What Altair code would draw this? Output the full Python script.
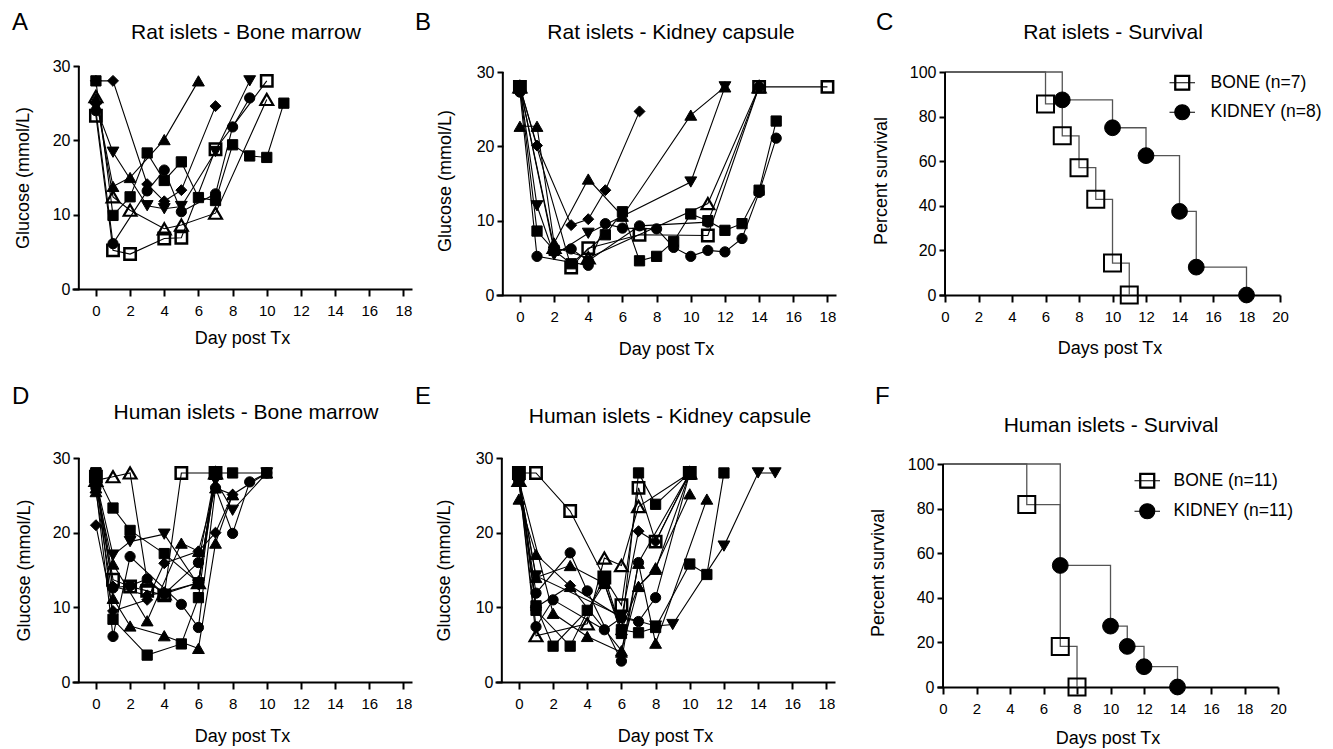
import altair as alt
import pandas as pd

FONT = "Liberation Sans"

# ---------------- Panel A: Rat islets - Bone marrow  [day, glucose mmol/L] ----------------
A_SQUARE = [[0, 28.0], [1, 9.9], [2, 12.4], [3, 18.3], [4, 14.6], [5, 17.1], [6, 12.3], [7, 11.9], [8, 19.4], [9, 17.9], [10, 17.7], [11, 25.0]]
A_DIAMOND = [[0, 28.0], [1, 28.0], [3, 14.1], [4, 11.8], [5, 13.3], [7, 24.6]]
A_TRI_UP = [[0, 25.6], [1, 13.8], [2, 15.0], [4, 20.1], [6, 28.0]]
A_TRI_DOWN = [[0, 24.5], [1, 18.4], [3, 11.2], [4, 10.8], [5, 11.1], [7, 18.5], [9, 28.0]]
A_CIRCLE = [[0, 24.0], [1, 6.1], [3, 13.2], [4, 16.0], [5, 10.4], [7, 12.8], [8, 21.8], [9, 25.7]]
A_OPEN_SQUARE = [[0, 23.3], [1, 5.2], [2, 4.7], [4, 6.8], [5, 6.9], [7, 18.8], [10, 28.0]]
A_OPEN_TRI = [[0, 25.9], [1, 12.4], [2, 10.6], [4, 8.1], [5, 8.6], [7, 10.2], [10, 25.5]]

# ---------------- Panel B: Rat islets - Kidney capsule ----------------
B_SQUARE = [[0, 28.0], [1, 8.6], [2, 6.0], [3, 4.2], [5, 8.1], [6, 11.2], [7, 4.6], [8, 5.2], [9, 7.2], [10, 10.9], [11, 10.0], [12, 8.7], [13, 9.6], [14, 14.1], [15, 23.4]]
B_CIRCLE = [[0, 27.3], [1, 5.2], [4, 4.0], [5, 9.6], [6, 9.0], [8, 8.9], [9, 6.4], [10, 5.2], [11, 6.0], [12, 5.8], [13, 7.6], [14, 13.8], [15, 21.1]]
B_CIRCLE_2 = [[0, 28.0], [2, 6.0], [3, 6.2], [4, 4.6], [7, 9.3], [11, 9.8], [14, 28.0]]
B_DIAMOND = [[0, 28.0], [1, 20.1], [3, 9.4], [4, 10.2], [5, 14.1], [7, 24.7]]
B_TRI_UP = [[0, 22.7], [1, 22.7], [2, 7.0], [4, 15.6], [6, 10.6], [10, 24.2], [12, 28.0]]
B_TRI_DOWN = [[0, 28.0], [1, 12.0], [2, 5.4], [4, 8.3], [10, 15.2], [12, 28.0]]
B_OPEN_SQUARE = [[0, 28.0], [3, 3.7], [4, 6.3], [7, 8.1], [11, 8.0], [14, 28.0], [18, 28.0]]
B_OPEN_TRI = [[0, 28.0], [2, 6.4], [4, 5.0], [11, 12.3], [14, 28.0]]

# ---------------- Panel D: Human islets - Bone marrow ----------------
D_SQUARE_1 = [[0, 28.0], [1, 23.3], [2, 20.3], [4, 17.2], [6, 13.3], [7, 28.0], [8, 28.0], [10, 28.0]]
D_SQUARE_2 = [[0, 28.0], [1, 8.4], [3, 3.6], [5, 5.1], [6, 11.3], [7, 28.0]]
D_OPEN_SQUARE = [[0, 27.5], [1, 13.7], [2, 12.8], [3, 12.2], [4, 11.6], [5, 28.0], [7, 28.0]]
D_OPEN_TRI = [[0, 27.0], [1, 27.5], [2, 28.0], [3, 13.5], [4, 11.8], [6, 13.3], [7, 28.0]]
D_TRI_UP_1 = [[0, 26.0], [1, 15.8], [3, 8.2], [5, 18.6], [6, 17.5], [7, 26.0], [8, 25.1], [10, 28.0]]
D_TRI_UP_2 = [[0, 25.5], [1, 11.2], [2, 7.5], [4, 6.2], [6, 4.5], [7, 18.6], [8, 25.1]]
D_TRI_DOWN = [[0, 27.0], [1, 17.0], [2, 18.8], [4, 19.8], [6, 13.0], [7, 27.0], [8, 23.0], [10, 28.0]]
D_CIRCLE_1 = [[0, 26.0], [1, 6.1], [2, 16.8], [5, 10.4], [6, 7.3], [7, 26.0], [8, 19.9], [9, 26.8], [10, 28.0]]
D_CIRCLE_2 = [[0, 27.0], [1, 12.6], [2, 12.9], [3, 13.8], [4, 11.8], [6, 16.0], [7, 28.0]]
D_DIAMOND_1 = [[0, 21.0], [1, 9.5], [3, 11.0], [4, 15.9], [6, 17.5], [7, 20.0], [8, 25.1]]
D_DIAMOND_2 = [[0, 26.5], [1, 12.8], [3, 11.6], [4, 12.0], [6, 13.3], [7, 28.0]]

# ---------------- Panel E: Human islets - Kidney capsule ----------------
E_OPEN_SQUARE = [[0, 28.0], [1, 28.0], [3, 22.9], [5, 14.0], [6, 10.3], [7, 26.0], [8, 18.8], [10, 28.0]]
E_SQUARE_1 = [[0, 28.0], [1, 10.2], [2, 4.8], [4, 9.6], [5, 13.2], [6, 6.5], [7, 28.0], [8, 23.8], [10, 28.0]]
E_SQUARE_2 = [[0, 28.0], [1, 9.6], [3, 4.8], [5, 14.0], [6, 7.0], [7, 6.6], [8, 7.3], [10, 15.8], [11, 14.4], [12, 28.0]]
E_TRI_UP_1 = [[0, 24.5], [1, 17.1], [3, 12.8], [6, 4.2], [7, 12.8], [8, 15.3], [10, 25.2]]
E_TRI_UP_2 = [[0, 27.0], [2, 9.2], [4, 6.1], [6, 4.0], [7, 15.9], [8, 5.2], [11, 24.5]]
E_TRI_UP_3 = [[0, 27.0], [1, 14.0], [3, 15.6], [5, 13.2], [6, 7.0], [7, 12.8], [8, 15.1], [10, 28.0]]
E_TRI_DOWN = [[0, 27.0], [1, 14.2], [6, 8.8], [8, 7.5], [9, 7.7], [12, 18.2], [14, 28.0], [15, 28.0]]
E_CIRCLE_1 = [[0, 27.0], [1, 11.9], [3, 17.3], [4, 12.2], [6, 2.8], [7, 16.0], [10, 28.0]]
E_CIRCLE_2 = [[0, 27.0], [1, 7.4], [2, 11.0], [5, 7.0], [6, 8.6], [7, 8.1], [8, 11.3], [10, 28.0]]
E_OPEN_TRI = [[0, 27.0], [1, 6.2], [4, 7.8], [5, 16.6], [6, 15.6], [7, 23.5], [10, 28.0]]
E_DIAMOND = [[0, 27.0], [1, 10.0], [3, 12.9], [6, 8.6], [7, 20.2], [8, 18.8], [10, 28.0]]

# ---------------- Survival (Kaplan-Meier) ----------------
C_GROUPS = ["BONE (n=7)", "KIDNEY (n=8)"]
C_BONE_DAYS = [0, 6, 7, 8, 9, 10, 11]
C_BONE_PCT = [100, 85.7, 71.4, 57.1, 42.9, 14.3, 0]
C_KIDNEY_DAYS = [0, 7, 10, 12, 14, 15, 18]
C_KIDNEY_PCT = [100, 87.5, 75, 62.5, 37.5, 12.5, 0]

F_GROUPS = ["BONE (n=11)", "KIDNEY (n=11)"]
F_BONE_DAYS = [0, 5, 7, 8]
F_BONE_PCT = [100, 81.8, 18.2, 0]
F_KIDNEY_DAYS = [0, 7, 10, 11, 12, 14]
F_KIDNEY_PCT = [100, 54.5, 27.3, 18.2, 9.1, 0]

GLU_TICKS_X = list(range(0, 19, 2))
GLU_TICKS_Y = [0, 10, 20, 30]
SURV_TICKS_X = list(range(0, 21, 2))
SURV_TICKS_Y = [0, 20, 40, 60, 80, 100]

# marker styles
MARKERS = {
    "sq": dict(shape="square", size=105, filled=True, strokeWidth=1),
    "ci": dict(shape="circle", size=105, filled=True, strokeWidth=1),
    "tu": dict(shape="triangle-up", size=140, filled=True, strokeWidth=1),
    "td": dict(shape="triangle-down", size=140, filled=True, strokeWidth=1),
    "di": dict(shape="diamond", size=120, filled=True, strokeWidth=1),
    "osq": dict(shape="square", size=130, filled=False, strokeWidth=2.5),
    "otr": dict(shape="triangle-up", size=165, filled=False, strokeWidth=2.2),
}

BONE_PATH = "M-1.7,0H1.7M-1,-1H1V1H-1ZM-0.86,-0.86V0.86H0.86V-0.86Z"
KIDNEY_PATH = "M-1.7,0H1.7M1,0A1,1,0,1,1,-1,0A1,1,0,1,1,1,0Z"


def text_layer(txt, x, y, size, align="left", baseline="top", color="black"):
    return alt.Chart(pd.DataFrame({"t": [txt]})).mark_text(
        font=FONT, fontSize=size, align=align, baseline=baseline, color=color
    ).encode(text="t:N", x=alt.value(x), y=alt.value(y))


def encodings(xdom, xticks, xtitle, xtp, ydom, yticks, ytitle, ytp, yoff):
    x = alt.X("day:Q", scale=alt.Scale(domain=xdom, nice=False, zero=False),
              axis=alt.Axis(values=xticks, title=xtitle, tickSize=7, labelPadding=7,
                            labelFontSize=15, minExtent=29, maxExtent=29, titlePadding=xtp,
                            format="d"))
    y = alt.Y("value:Q", scale=alt.Scale(domain=ydom, nice=False, zero=False),
              axis=alt.Axis(values=yticks, title=ytitle, tickSize=6, labelPadding=3,
                            labelFontSize=16, offset=yoff, domain=False, minExtent=30,
                            maxExtent=30, titlePadding=ytp, format="d"))
    return x, y


def common_layers(x, y, axis_x, axis_top, letter, lx, ly, title, tx, ty, spacer_x):
    rule = alt.Chart(pd.DataFrame({"day": [axis_x], "value": [0], "top": [axis_top]})).mark_rule(
        color="black", strokeWidth=2).encode(x=x, y=y, y2="top:Q")
    out = [rule, text_layer(letter, lx, ly, 24),
           text_layer(title, tx, ty, 21, align="center", baseline="middle")]
    if spacer_x is not None:
        out.append(text_layer(".", spacer_x, 100, 14, color="white"))
    return out


def glucose_panel(series, letter, title, height, ytop, lx, ly, tx, ty, ytp, xtp, spacer_x=None):
    rows = []
    for name, sym, pts in series:
        for d, v in pts:
            rows.append({"series": name, "sym": sym, "day": d, "value": v})
    df = pd.DataFrame(rows)
    x, y = encodings([-1.4, 18.5], GLU_TICKS_X, "Day post Tx", xtp,
                     [0, ytop], GLU_TICKS_Y, "Glucose (mmol/L)", ytp, -7)
    base = alt.Chart(df)
    layers = [base.mark_line(color="black", strokeWidth=1.1).encode(x=x, y=y, detail="series:N")]
    for sym in MARKERS:
        if sym in df["sym"].values:
            layers.append(base.transform_filter(alt.datum.sym == sym).mark_point(
                color="black", stroke="black", opacity=1, **MARKERS[sym]).encode(x=x, y=y))
    layers += common_layers(x, y, -1, 30, letter, lx, ly, title, tx, ty, spacer_x)
    return alt.layer(*layers).properties(width=340, height=height)


def survival_panel(groups, bone_days, bone_pct, kid_days, kid_pct, letter, title, lx, ly, tx, ty,
                   ytp, xtp, spacer_x, legx, legy, lab_off, row_pad):
    rows = [{"group": groups[0], "day": d, "value": v} for d, v in zip(bone_days, bone_pct)]
    rows += [{"group": groups[1], "day": d, "value": v} for d, v in zip(kid_days, kid_pct)]
    df = pd.DataFrame(rows)
    ytop = 100 * 229 / 223
    x, y = encodings([-0.36, 20], SURV_TICKS_X, "Days post Tx", xtp,
                     [0, ytop], SURV_TICKS_Y, "Percent survival", ytp, -6)
    base = alt.Chart(df)
    steps = base.mark_line(interpolate="step-after", color="#555555", strokeWidth=1.3).encode(
        x=x, y=y, detail="group:N")
    bone_pts = base.transform_filter((alt.datum.group == groups[0]) & (alt.datum.day > 0)).mark_point(
        shape="square", filled=False, color="black", strokeWidth=2, size=289, opacity=1).encode(x=x, y=y)
    kid_pts = base.transform_filter((alt.datum.group == groups[1]) & (alt.datum.day > 0)).mark_point(
        shape="circle", filled=True, color="black", stroke="black", strokeWidth=1, size=250, opacity=1).encode(x=x, y=y)
    legend_layer = alt.Chart(pd.DataFrame({"group": groups})).transform_filter("false").mark_point(
        filled=True, color="black", stroke="black", strokeWidth=1.2, size=225, opacity=1
    ).encode(
        shape=alt.Shape("group:N", scale=alt.Scale(domain=groups, range=[BONE_PATH, KIDNEY_PATH]),
                        legend=alt.Legend(title=None, orient="none", legendX=legx, legendY=legy,
                                          labelFont=FONT, labelFontSize=17.5, labelColor="black",
                                          labelOffset=lab_off, rowPadding=row_pad, padding=0,
                                          symbolSize=225, symbolStrokeWidth=1.2))
    )
    layers = [steps, bone_pts, kid_pts, legend_layer]
    layers += common_layers(x, y, 0, 100, letter, lx, ly, title, tx, ty, spacer_x)
    return alt.layer(*layers).properties(width=341, height=229)


A = glucose_panel([
    ("a1", "sq", A_SQUARE), ("a2", "di", A_DIAMOND), ("a3", "tu", A_TRI_UP), ("a4", "td", A_TRI_DOWN),
    ("a5", "ci", A_CIRCLE), ("a6", "osq", A_OPEN_SQUARE), ("a7", "otr", A_OPEN_TRI)],
    "A", "Rat islets - Bone marrow", 223, 30, -60, -55, 174, -33.5, 17, 11.2)

B = glucose_panel([
    ("b1", "sq", B_SQUARE), ("b2", "ci", B_CIRCLE), ("b3", "ci", B_CIRCLE_2), ("b4", "di", B_DIAMOND),
    ("b5", "tu", B_TRI_UP), ("b6", "td", B_TRI_DOWN), ("b7", "osq", B_OPEN_SQUARE), ("b8", "otr", B_OPEN_TRI)],
    "B", "Rat islets - Kidney capsule", 229, 30 * 229 / 223, -81, -55, 175, -33.5, 19, 16.2)

C = survival_panel(C_GROUPS, C_BONE_DAYS, C_BONE_PCT, C_KIDNEY_DAYS, C_KIDNEY_PCT,
                   "C", "Rat islets - Survival", -63, -55, 174, -33.5, 25, 15.2, -97,
                   234.5, 8, 19.5, 8.5)

D = glucose_panel([
    ("d1", "sq", D_SQUARE_1), ("d2", "sq", D_SQUARE_2), ("d3", "osq", D_OPEN_SQUARE), ("d4", "otr", D_OPEN_TRI),
    ("d5", "tu", D_TRI_UP_1), ("d6", "tu", D_TRI_UP_2), ("d7", "td", D_TRI_DOWN), ("d8", "ci", D_CIRCLE_1),
    ("d9", "ci", D_CIRCLE_2), ("d10", "di", D_DIAMOND_1), ("d11", "di", D_DIAMOND_2)],
    "D", "Human islets - Bone marrow", 224, 30, -60, -73, 174, -45.3, 16, 16.2)

E = glucose_panel([
    ("e1", "osq", E_OPEN_SQUARE), ("e2", "sq", E_SQUARE_1), ("e3", "sq", E_SQUARE_2), ("e4", "tu", E_TRI_UP_1),
    ("e5", "tu", E_TRI_UP_2), ("e6", "tu", E_TRI_UP_3), ("e7", "td", E_TRI_DOWN), ("e8", "ci", E_CIRCLE_1),
    ("e9", "ci", E_CIRCLE_2), ("e10", "otr", E_OPEN_TRI), ("e11", "di", E_DIAMOND)],
    "E", "Human islets - Kidney capsule", 224, 30, -80, -73, 175, -41, 19, 16.2)

F = survival_panel(F_GROUPS, F_BONE_DAYS, F_BONE_PCT, F_KIDNEY_DAYS, F_KIDNEY_PCT,
                   "F", "Human islets - Survival", -62, -73, 174, -32.3, 26, 13.7, -99,
                   201.5, 14, 17.5, 9.5)

row1 = alt.hconcat(A, B, C, spacing=3).resolve_scale(shape="independent").resolve_legend(shape="independent")
row2 = alt.hconcat(D, E, F, spacing=3).resolve_scale(shape="independent").resolve_legend(shape="independent")

chart = alt.vconcat(row1, row2, spacing=26).resolve_scale(shape="independent").resolve_legend(
    shape="independent"
).properties(
    padding={"left": 4, "top": 3, "right": 0, "bottom": 0}
).configure_view(stroke=None).configure_axis(
    grid=False, domainColor="black", domainWidth=2, tickColor="black", tickWidth=2,
    labelFont=FONT, labelColor="black", labelFlush=False, labelOverlap=False,
    titleFont=FONT, titleFontSize=18, titleFontWeight="normal", titleColor="black"
)

chart.save("out.html", embed_options={"renderer": "svg", "actions": False})
